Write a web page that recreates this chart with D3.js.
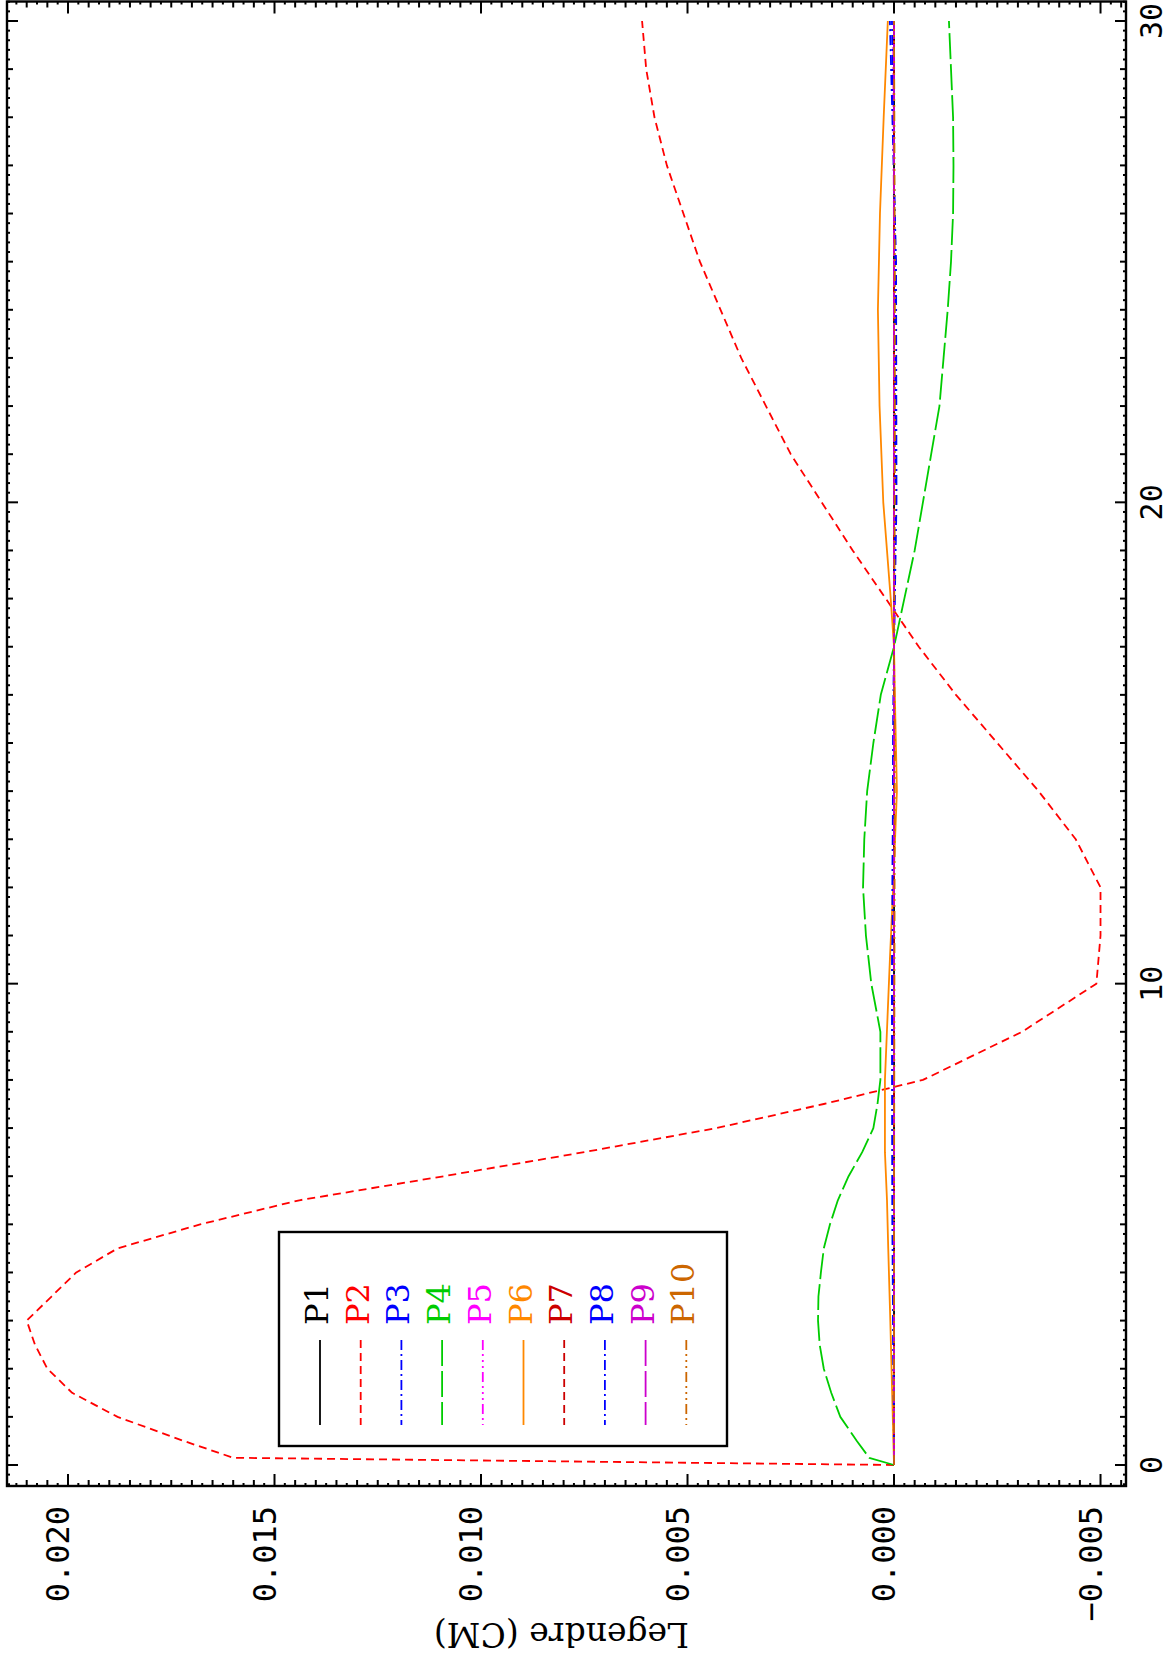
<!DOCTYPE html>
<html>
<head>
<meta charset="utf-8">
<script src="https://cdn.jsdelivr.net/npm/d3@7"></script>
<style>
  body { margin: 0; background: #fff; }
</style>
</head>
<body>
<div id="chart"></div>
<script>
// 数据: depth 为原图横轴 (0-30)，值为纵轴 Legendre (CM)
const depth = [0, 0.15, 0.5, 1, 1.5, 2, 2.5, 3, 3.5, 4, 4.5, 5, 5.5, 6, 6.5, 7, 7.5, 8, 9, 10,
               11, 12, 13, 14, 15, 16, 17, 18, 19, 20, 21, 22, 23, 24, 25, 26, 27, 28, 29, 30];
const p2 = [0, 0.0160, 0.0172, 0.0188, 0.0199, 0.0205, 0.0208, 0.0210, 0.0204, 0.0198,
            0.0188, 0.0168, 0.0144, 0.0109, 0.0075, 0.0043, 0.0017, -0.0007, -0.0031, -0.0049,
            -0.0050, -0.0050, -0.0044, -0.0035, -0.0025, -0.0015, -0.0006, 0.0002, 0.0010, 0.00175,
            0.0025, 0.0031, 0.0037, 0.0042, 0.0047, 0.0051, 0.0055, 0.0058, 0.0060, 0.0061];
const p4 = [0, 0.0006, 0.0009, 0.0013, 0.00152, 0.0017, 0.0018, 0.00184, 0.00183, 0.00177,
            0.0017, 0.00155, 0.00136, 0.0011, 0.00077, 0.0005, 0.0004, 0.00033, 0.00033, 0.00055,
            0.00068, 0.00075, 0.00072, 0.00065, 0.0005, 0.00032, 0.0, -0.00025, -0.0005, -0.0007,
            -0.0009, -0.0011, -0.0012, -0.0013, -0.00138, -0.00143, -0.00144, -0.00143, -0.00138, -0.00133];

const depthP6 = [0, 1, 2, 3, 4.5, 5.5, 6.5, 8, 10.5, 12, 14, 16, 17, 18, 20, 22, 24, 26, 28, 30];
const p6 = [0, 0.00003, 0.00006, 0.00009, 0.00014, 0.00017, 0.00022, 0.00022, 0.0001, 0.00002,
            -0.00007, -0.00002, 0, 0.00008, 0.00026, 0.00035, 0.00039, 0.00034, 0.00025, 0.00015];

const depthFlat = [0, 5, 10, 15, 17, 20, 25, 30];
const p1  = [0, 0, 0, 0, 0, 0, 0, 0];
const p3  = [0, 0.00004, 0.00005, 0.00002, 0, -0.00006, -0.00005, 0.0001];
const p5  = [0, 0, 0, 0, 0, 0, 0, 0.00002];
const p7  = [0, 0, 0, 0, 0, 0, 0, 0];
const p8  = [0, 0.00003, 0.00004, 0.00002, 0, -0.00003, -0.00003, 0.00005];
const p9  = [0, 0, 0, 0, 0, 0, 0, 0];
const p10 = [0, 0, -0.00001, -0.00002, 0, -0.00002, -0.00002, 0];

const seriesNames  = ['P1', 'P2', 'P3', 'P4', 'P5', 'P6', 'P7', 'P8', 'P9', 'P10'];
const seriesColors = ['#000000', '#ff0000', '#0000ff', '#00cc00', '#ff00ff',
                      '#ff8800', '#cc0000', '#0000ff', '#cc00cc', '#cc6600'];

const depthTicks = [0, 10, 20, 30];
const valueTicks = [0.020, 0.015, 0.010, 0.005, 0.000, -0.005];
const valueTickLabels = ['0.020', '0.015', '0.010', '0.005', '0.000', '\u22120.005'];
const valueTitle = 'Legendre (CM)';

// 线型 (IDL 风格: 实线, 虚线, 点划线, 长虚线, 三点划线)
const dashStyles = {
    solid: null,
    dash: '8,5',
    dashDot: '10,4,2,4',
    longDash: '26,5',
    dashDot3: '10,4,2,4,2,4,2,4'
};
const seriesDash = ['solid', 'dash', 'dashDot', 'longDash', 'dashDot3',
                    'solid', 'dash', 'dashDot', 'longDash', 'dashDot3'];

// 页面是横向图旋转 90° 后的样子
const config = {
    width: 1171,
    height: 1659,
    frame: { left: 7, right: 1126, top: 1.5, bottom: 1486 },
    numFont: '"DejaVu Sans Mono", monospace',
    textFont: '"DejaVu Serif", serif'
};

function init() {
    const f = config.frame;

    const svg = d3.select('#chart')
        .append('svg')
        .attr('width', config.width)
        .attr('height', config.height)
        .style('background', '#fff');

    // depth 竖直向上, 数值向左增大
    const depthScale = d3.scaleLinear()
        .domain([-0.4363, 30.405])
        .range([f.bottom, f.top]);
    const valueScale = d3.scaleLinear()
        .domain([-0.005617, 0.021477])
        .range([f.right, f.left]);

    const series = [
        { d: depthFlat, v: p1 }, { d: depth, v: p2 }, { d: depthFlat, v: p3 },
        { d: depth, v: p4 }, { d: depthFlat, v: p5 }, { d: depthP6, v: p6 },
        { d: depthFlat, v: p7 }, { d: depthFlat, v: p8 }, { d: depthFlat, v: p9 },
        { d: depthFlat, v: p10 }
    ].map((s, i) => ({
        name: seriesNames[i],
        color: seriesColors[i],
        dash: dashStyles[seriesDash[i]],
        points: s.d.map((t, k) => ({ t, v: s.v[k] }))
    }));

    // 数据曲线
    const line = d3.line()
        .x(d => valueScale(d.v))
        .y(d => depthScale(d.t));

    const plot = svg.append('g').attr('class', 'plot');
    plot.selectAll('path')
        .data(series)
        .enter()
        .append('path')
        .attr('d', d => line(d.points))
        .attr('fill', 'none')
        .attr('stroke', d => d.color)
        .attr('stroke-width', 1.8)
        .attr('stroke-dasharray', d => d.dash)
        .attr('stroke-linejoin', 'round');

    // 刻度
    const ticks = svg.append('g')
        .attr('stroke', '#000')
        .attr('stroke-width', 2);

    // 数值轴刻度 (上下两边), 每 0.00025 一个
    d3.range(-22, 86).forEach(i => {
        const x = valueScale(i * 0.00025);
        const len = i % 20 === 0 ? 12 : (i % 2 === 0 ? 6 : 3);
        ticks.append('line').attr('x1', x).attr('x2', x)
            .attr('y1', f.bottom).attr('y2', f.bottom - len);
        ticks.append('line').attr('x1', x).attr('x2', x)
            .attr('y1', f.top).attr('y2', f.top + len);
    });

    // depth 轴刻度 (左右两边), 每 0.2 一个
    d3.range(-2, 153).forEach(i => {
        const y = depthScale(i * 0.2);
        const len = i % 50 === 0 ? 11 : (i % 5 === 0 ? 6 : 3);
        ticks.append('line').attr('y1', y).attr('y2', y)
            .attr('x1', f.right).attr('x2', f.right - len);
        ticks.append('line').attr('y1', y).attr('y2', y)
            .attr('x1', f.left).attr('x2', f.left + len);
    });

    // 边框
    svg.append('rect')
        .attr('x', f.left)
        .attr('y', f.top)
        .attr('width', f.right - f.left)
        .attr('height', f.bottom - f.top)
        .attr('fill', 'none')
        .attr('stroke', '#000')
        .attr('stroke-width', 2.4);

    // 数值刻度标签 (旋转 -90)
    svg.append('g')
        .selectAll('text')
        .data(valueTicks)
        .enter()
        .append('text')
        .attr('transform', (d, i) => `translate(${valueScale(d) + 1},${f.bottom + 20}) rotate(-90)`)
        .attr('text-anchor', 'end')
        .attr('font-family', config.numFont)
        .attr('font-size', 32)
        .text((d, i) => valueTickLabels[i]);

    // depth 刻度标签
    svg.append('g')
        .selectAll('text')
        .data(depthTicks)
        .enter()
        .append('text')
        .attr('transform', d => `translate(${f.right + 36},${depthScale(d)}) rotate(-90)`)
        .attr('text-anchor', 'middle')
        .attr('font-family', config.numFont)
        .attr('font-size', 30)
        .text(d => d);

    // 纵轴标题 (倒置)
    svg.append('text')
        .attr('transform', `translate(689,${f.bottom + 137}) rotate(180)`)
        .attr('text-anchor', 'start')
        .attr('font-family', config.textFont)
        .attr('font-size', 33)
        .text(valueTitle);

    // 图例
    const legend = { left: 279, right: 727, top: 1232, bottom: 1446, step: 40.7 };
    svg.append('rect')
        .attr('x', legend.left)
        .attr('y', legend.top)
        .attr('width', legend.right - legend.left)
        .attr('height', legend.bottom - legend.top)
        .attr('fill', '#fff')
        .attr('stroke', '#000')
        .attr('stroke-width', 2.4);

    const items = svg.append('g')
        .selectAll('g')
        .data(series)
        .enter()
        .append('g')
        .attr('transform', (d, i) => `translate(${legend.left + 41 + i * legend.step},0)`);

    items.append('line')
        .attr('x1', 0).attr('x2', 0)
        .attr('y1', 1340).attr('y2', 1425)
        .attr('stroke', d => d.color)
        .attr('stroke-width', 1.8)
        .attr('stroke-dasharray', d => d.dash);

    items.append('text')
        .attr('transform', 'translate(8,1325) rotate(-90)')
        .attr('text-anchor', 'start')
        .attr('font-family', config.textFont)
        .attr('font-size', 32)
        .attr('fill', d => d.color)
        .attr('font-size', 32)
        .text(d => d.name);
}

window.addEventListener('DOMContentLoaded', init);
</script>
</body>
</html>
